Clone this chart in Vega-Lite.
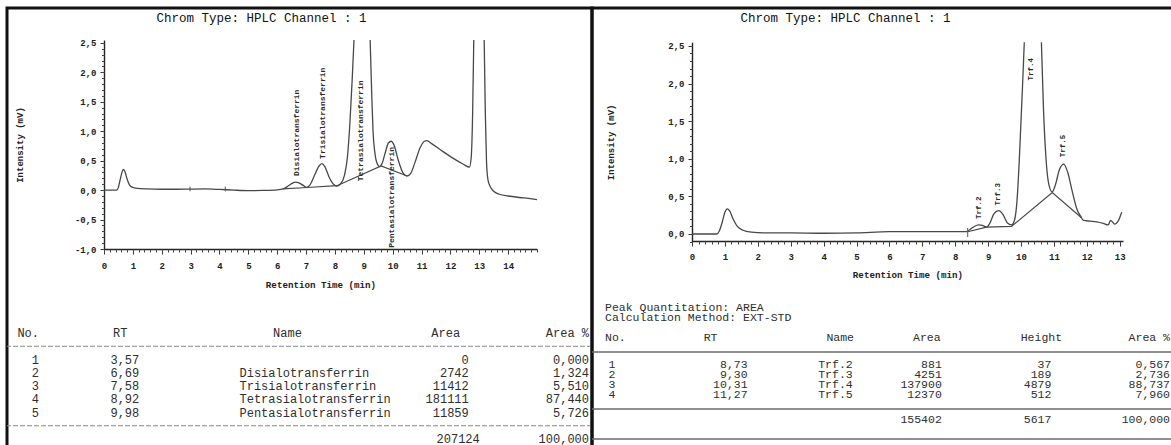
{
  "$schema": "https://vega.github.io/schema/vega-lite/v6.json",
  "usermeta": {"embedOptions": {"actions": false}},
  "padding": {"left": 5, "top": 6, "right": 0, "bottom": 0},
  "spacing": 0,
  "bounds": "flush",
  "config": {
    "font": "Liberation Mono",
    "view": {"stroke": null},
    "axis": {"labelFont": "Liberation Mono", "titleFont": "Liberation Mono", "grid": false}
  },
  "datasets": {
    "leftTrace": [
      {"t": 0, "v": 0, "part": "a"}, {"t": 0.44, "v": 0, "part": "a"}, {"t": 0.5, "v": 0.05, "part": "a"},
      {"t": 0.57, "v": 0.2, "part": "a"}, {"t": 0.64, "v": 0.33, "part": "a"}, {"t": 0.68, "v": 0.35, "part": "a"},
      {"t": 0.73, "v": 0.31, "part": "a"}, {"t": 0.8, "v": 0.19, "part": "a"}, {"t": 0.88, "v": 0.09, "part": "a"},
      {"t": 0.98, "v": 0.05, "part": "a"}, {"t": 1.15, "v": 0.03, "part": "a"}, {"t": 1.5, "v": 0.02, "part": "a"},
      {"t": 2.0, "v": 0.015, "part": "a"}, {"t": 2.5, "v": 0.015, "part": "a"}, {"t": 3.0, "v": 0.018, "part": "a"},
      {"t": 3.5, "v": 0.02, "part": "a"}, {"t": 4.0, "v": 0.012, "part": "a"}, {"t": 4.5, "v": 0.0, "part": "a"},
      {"t": 5.0, "v": -0.008, "part": "a"}, {"t": 5.5, "v": -0.005, "part": "a"}, {"t": 6.0, "v": 0.005, "part": "a"},
      {"t": 6.2, "v": 0.02, "part": "a"}, {"t": 6.35, "v": 0.06, "part": "a"}, {"t": 6.5, "v": 0.11, "part": "a"},
      {"t": 6.63, "v": 0.135, "part": "a"}, {"t": 6.75, "v": 0.125, "part": "a"}, {"t": 6.9, "v": 0.08, "part": "a"},
      {"t": 7.03, "v": 0.045, "part": "a"}, {"t": 7.15, "v": 0.1, "part": "a"}, {"t": 7.3, "v": 0.26, "part": "a"},
      {"t": 7.45, "v": 0.41, "part": "a"}, {"t": 7.55, "v": 0.45, "part": "a"}, {"t": 7.65, "v": 0.4, "part": "a"},
      {"t": 7.8, "v": 0.22, "part": "a"}, {"t": 7.95, "v": 0.1, "part": "a"}, {"t": 8.07, "v": 0.07, "part": "a"},
      {"t": 8.2, "v": 0.11, "part": "a"}, {"t": 8.33, "v": 0.25, "part": "a"}, {"t": 8.43, "v": 0.55, "part": "a"},
      {"t": 8.52, "v": 1.15, "part": "a"}, {"t": 8.6, "v": 1.9, "part": "a"}, {"t": 8.66, "v": 2.55, "part": "a"},
      {"t": 9.22, "v": 2.55, "part": "b"}, {"t": 9.27, "v": 1.7, "part": "b"}, {"t": 9.32, "v": 1.0, "part": "b"},
      {"t": 9.38, "v": 0.65, "part": "b"}, {"t": 9.45, "v": 0.47, "part": "b"}, {"t": 9.55, "v": 0.4, "part": "b"},
      {"t": 9.63, "v": 0.45, "part": "b"}, {"t": 9.74, "v": 0.63, "part": "b"}, {"t": 9.85, "v": 0.8, "part": "b"},
      {"t": 9.95, "v": 0.83, "part": "b"}, {"t": 10.05, "v": 0.76, "part": "b"}, {"t": 10.2, "v": 0.5, "part": "b"},
      {"t": 10.35, "v": 0.3, "part": "b"}, {"t": 10.5, "v": 0.24, "part": "b"}, {"t": 10.62, "v": 0.28, "part": "b"},
      {"t": 10.78, "v": 0.48, "part": "b"}, {"t": 10.95, "v": 0.72, "part": "b"}, {"t": 11.1, "v": 0.83, "part": "b"},
      {"t": 11.18, "v": 0.84, "part": "b"}, {"t": 11.35, "v": 0.79, "part": "b"}, {"t": 11.7, "v": 0.67, "part": "b"},
      {"t": 12.1, "v": 0.54, "part": "b"}, {"t": 12.45, "v": 0.44, "part": "b"}, {"t": 12.66, "v": 0.39, "part": "b"},
      {"t": 12.72, "v": 0.55, "part": "b"}, {"t": 12.77, "v": 1.3, "part": "b"}, {"t": 12.81, "v": 2.55, "part": "b"},
      {"t": 13.17, "v": 2.55, "part": "c"}, {"t": 13.21, "v": 1.3, "part": "c"}, {"t": 13.25, "v": 0.5, "part": "c"},
      {"t": 13.3, "v": 0.18, "part": "c"}, {"t": 13.38, "v": 0.06, "part": "c"}, {"t": 13.5, "v": -0.02, "part": "c"},
      {"t": 13.7, "v": -0.07, "part": "c"}, {"t": 14.0, "v": -0.1, "part": "c"}, {"t": 14.4, "v": -0.125, "part": "c"},
      {"t": 14.7, "v": -0.14, "part": "c"}, {"t": 15.0, "v": -0.16, "part": "c"}
    ],
    "leftBase": [
      {"t": 6.2, "v": 0.02}, {"t": 7.03, "v": 0.045}, {"t": 8.07, "v": 0.075}, {"t": 9.6, "v": 0.41}, {"t": 10.5, "v": 0.24}
    ],
    "leftMarks": [
      {"t": 2.98, "lo": -0.02, "hi": 0.06}, {"t": 4.2, "lo": -0.02, "hi": 0.06}
    ],
    "leftPeaks": [
      {"rt": 6.69, "at": 0.24, "label": "Disialotransferrin"},
      {"rt": 7.58, "at": 0.53, "label": "Trisialotransferrin"},
      {"rt": 8.92, "at": 0.15, "label": "Tetrasialotransferrin"},
      {"rt": 9.98, "at": -0.98, "label": "Pentasialotransferrin"}
    ],
    "leftTable": [
      {"line": "hdr", "no": "No.", "rt": "RT", "name": "Name", "area": "Area", "pct": "Area %"},
      {"line": "1", "no": "1", "rt": "3,57", "name": "", "area": "0", "pct": "0,000"},
      {"line": "2", "no": "2", "rt": "6,69", "name": "Disialotransferrin", "area": "2742", "pct": "1,324"},
      {"line": "3", "no": "3", "rt": "7,58", "name": "Trisialotransferrin", "area": "11412", "pct": "5,510"},
      {"line": "4", "no": "4", "rt": "8,92", "name": "Tetrasialotransferrin", "area": "181111", "pct": "87,440"},
      {"line": "5", "no": "5", "rt": "9,98", "name": "Pentasialotransferrin", "area": "11859", "pct": "5,726"},
      {"line": "total", "no": "", "rt": "", "name": "", "area": "207124", "pct": "100,000"}
    ],
    "rightTrace": [
      {"t": 0, "v": 0, "part": "a"}, {"t": 0.75, "v": 0, "part": "a"}, {"t": 0.83, "v": 0.04, "part": "a"},
      {"t": 0.92, "v": 0.16, "part": "a"}, {"t": 1.0, "v": 0.29, "part": "a"}, {"t": 1.07, "v": 0.335, "part": "a"},
      {"t": 1.14, "v": 0.31, "part": "a"}, {"t": 1.25, "v": 0.2, "part": "a"}, {"t": 1.38, "v": 0.1, "part": "a"},
      {"t": 1.55, "v": 0.05, "part": "a"}, {"t": 1.8, "v": 0.025, "part": "a"}, {"t": 2.2, "v": 0.015, "part": "a"},
      {"t": 3.0, "v": 0.015, "part": "a"}, {"t": 4.0, "v": 0.01, "part": "a"}, {"t": 5.0, "v": 0.015, "part": "a"},
      {"t": 6.0, "v": 0.03, "part": "a"}, {"t": 7.0, "v": 0.03, "part": "a"}, {"t": 8.0, "v": 0.03, "part": "a"},
      {"t": 8.35, "v": 0.03, "part": "a"}, {"t": 8.45, "v": 0.06, "part": "a"}, {"t": 8.58, "v": 0.1, "part": "a"},
      {"t": 8.72, "v": 0.12, "part": "a"}, {"t": 8.85, "v": 0.11, "part": "a"}, {"t": 8.95, "v": 0.09, "part": "a"},
      {"t": 9.05, "v": 0.14, "part": "a"}, {"t": 9.18, "v": 0.27, "part": "a"}, {"t": 9.32, "v": 0.31, "part": "a"},
      {"t": 9.45, "v": 0.26, "part": "a"}, {"t": 9.58, "v": 0.15, "part": "a"}, {"t": 9.71, "v": 0.12, "part": "a"},
      {"t": 9.8, "v": 0.18, "part": "a"}, {"t": 9.88, "v": 0.45, "part": "a"}, {"t": 9.96, "v": 1.1, "part": "a"},
      {"t": 10.04, "v": 1.9, "part": "a"}, {"t": 10.1, "v": 2.55, "part": "a"},
      {"t": 10.62, "v": 2.55, "part": "b"}, {"t": 10.68, "v": 1.7, "part": "b"}, {"t": 10.76, "v": 1.0, "part": "b"},
      {"t": 10.85, "v": 0.65, "part": "b"}, {"t": 10.95, "v": 0.56, "part": "b"}, {"t": 11.05, "v": 0.66, "part": "b"},
      {"t": 11.17, "v": 0.86, "part": "b"}, {"t": 11.3, "v": 0.93, "part": "b"}, {"t": 11.42, "v": 0.82, "part": "b"},
      {"t": 11.55, "v": 0.58, "part": "b"}, {"t": 11.7, "v": 0.33, "part": "b"}, {"t": 11.82, "v": 0.23, "part": "b"},
      {"t": 11.9, "v": 0.18, "part": "b"}, {"t": 12.1, "v": 0.17, "part": "b"}, {"t": 12.3, "v": 0.16, "part": "b"},
      {"t": 12.5, "v": 0.14, "part": "b"}, {"t": 12.65, "v": 0.12, "part": "b"}, {"t": 12.72, "v": 0.18, "part": "b"},
      {"t": 12.78, "v": 0.16, "part": "b"}, {"t": 12.85, "v": 0.13, "part": "b"}, {"t": 12.95, "v": 0.17, "part": "b"},
      {"t": 13.06, "v": 0.29, "part": "b"}
    ],
    "rightBase": [
      {"t": 8.38, "v": 0.03}, {"t": 8.95, "v": 0.09}, {"t": 9.71, "v": 0.1}, {"t": 10.95, "v": 0.55}, {"t": 11.83, "v": 0.22}
    ],
    "rightMarks": [
      {"t": 8.38, "lo": -0.04, "hi": 0.08}
    ],
    "rightPeaks": [
      {"rt": 8.73, "at": 0.2, "label": "Trf.2"},
      {"rt": 9.30, "at": 0.38, "label": "Trf.3"},
      {"rt": 10.31, "at": 2.04, "label": "Trf.4"},
      {"rt": 11.27, "at": 1.02, "label": "Trf.5"}
    ],
    "rightNotes": [
      {"line": "pq", "note": "Peak Quantitation: AREA"},
      {"line": "cm", "note": "Calculation Method: EXT-STD"}
    ],
    "rightTable": [
      {"line": "hdr", "no": "No.", "rt": "RT", "name": "Name", "area": "Area", "height": "Height", "pct": "Area %"},
      {"line": "1", "no": "1", "rt": "8,73", "name": "Trf.2", "area": "881", "height": "37", "pct": "0,567"},
      {"line": "2", "no": "2", "rt": "9,30", "name": "Trf.3", "area": "4251", "height": "189", "pct": "2,736"},
      {"line": "3", "no": "3", "rt": "10,31", "name": "Trf.4", "area": "137900", "height": "4879", "pct": "88,737"},
      {"line": "4", "no": "4", "rt": "11,27", "name": "Trf.5", "area": "12370", "height": "512", "pct": "7,960"},
      {"line": "total", "no": "", "rt": "", "name": "", "area": "155402", "height": "5617", "pct": "100,000"}
    ]
  },
  "hconcat": [
    {
      "width": 585,
      "height": 442,
      "view": {"stroke": "#111", "strokeWidth": 3},
      "title": {
        "text": "Chrom Type: HPLC Channel : 1",
        "anchor": "middle", "frame": "group", "dx": -38, "dy": 10.5, "offset": -12, "baseline": "middle",
        "font": "Liberation Mono", "fontSize": 12.5, "fontWeight": "normal", "color": "#111"
      },
      "resolve": {
        "scale": {"x": "independent", "y": "independent"},
        "axis": {"x": "independent", "y": "independent"}
      },
      "layer": [
        {
          "layer": [
            {
              "data": {"name": "leftTrace"},
              "mark": {"type": "line", "interpolate": "monotone", "stroke": "#484848", "strokeWidth": 1.3},
              "encoding": {
                "x": {
                  "field": "t", "type": "quantitative",
                  "scale": {"domain": [0, 15], "range": [97, 530], "nice": false, "zero": false},
                  "axis": {
                    "orient": "bottom", "offset": -201,
                    "values": [0, 1, 2, 3, 4, 5, 6, 7, 8, 9, 10, 11, 12, 13, 14], "format": "d",
                    "labelFlush": false, "labelOverlap": false,
                    "labelFontSize": 9, "labelFontWeight": "bold", "labelColor": "#222", "labelPadding": 7,
                    "tickSize": 5, "tickColor": "#333", "domainColor": "#222", "domainWidth": 1.4,
                    "title": "Retention Time (min)", "titleFontSize": 9.2, "titleFontWeight": "bold",
                    "titleColor": "#222", "titlePadding": 10
                  }
                },
                "y": {
                  "field": "v", "type": "quantitative",
                  "scale": {"domain": [-1, 2.55], "range": [241, 32], "nice": false, "zero": false},
                  "axis": {
                    "orient": "left", "offset": -97,
                    "values": [-1, -0.5, 0, 0.5, 1, 1.5, 2, 2.5],
                    "labelExpr": "replace(replace(format(datum.value, '.1f'), '.', ','), '\u2212', '-')",
                    "labelFlush": false, "labelOverlap": false,
                    "labelFontSize": 9, "labelFontWeight": "bold", "labelColor": "#222", "labelPadding": 4,
                    "tickSize": 4, "tickColor": "#333", "domainColor": "#222", "domainWidth": 1.4,
                    "title": "Intensity (mV)", "titleFontSize": 9, "titleFontWeight": "bold",
                    "titleColor": "#222", "titlePadding": 50
                  }
                },
                "detail": {"field": "part"}
              }
            },
            {
              "data": {"name": "leftBase"},
              "mark": {"type": "line", "stroke": "#484848", "strokeWidth": 1.2},
              "encoding": {
                "x": {"field": "t", "type": "quantitative"},
                "y": {"field": "v", "type": "quantitative"}
              }
            },
            {
              "data": {"name": "leftMarks"},
              "mark": {"type": "rule", "stroke": "#555", "strokeWidth": 1},
              "encoding": {
                "x": {"field": "t", "type": "quantitative"},
                "y": {"field": "lo", "type": "quantitative"},
                "y2": {"field": "hi"}
              }
            },
            {
              "data": {"name": "leftPeaks"},
              "mark": {"type": "text", "angle": 270, "align": "left", "baseline": "middle", "fontSize": 8, "fontWeight": "bold", "color": "#2a2a2a"},
              "encoding": {
                "x": {"field": "rt", "type": "quantitative"},
                "y": {"field": "at", "type": "quantitative"},
                "text": {"field": "label"}
              }
            }
          ]
        },
        {
          "data": {"name": "leftTrace"},
          "mark": {"type": "point", "opacity": 0},
          "encoding": {
            "x": {
              "field": "t", "type": "quantitative",
              "scale": {"domain": [0, 15], "range": [97, 530], "nice": false, "zero": false},
              "axis": {"orient": "bottom", "offset": -201, "tickCount": 75, "labels": false, "domain": false, "tickSize": 3, "tickColor": "#444", "title": null}
            },
            "y": {
              "field": "v", "type": "quantitative",
              "scale": {"domain": [-1, 2.55], "range": [241, 32], "nice": false, "zero": false},
              "axis": {"orient": "left", "offset": -97, "tickCount": 36, "labels": false, "domain": false, "tickSize": 2.5, "tickColor": "#444", "title": null}
            }
          }
        },
        {
          "data": {"name": "leftTable"},
          "encoding": {
            "y": {
              "field": "line", "type": "nominal",
              "scale": {"type": "point", "domain": ["hdr", "sep1", "1", "2", "3", "4", "5", "sep2", "total"], "range": [325, 431], "padding": 0},
              "axis": null
            }
          },
          "layer": [
            {
              "mark": {"type": "text", "align": "right", "fontSize": 12, "color": "#2e2e2e"},
              "encoding": {
                "x": {"datum": "No.", "type": "nominal", "scale": {"type": "point", "domain": ["No.", "RT", "Name", "Area", "Area %"], "range": [32, 581], "padding": 0}, "axis": null},
                "text": {"field": "no"}
              }
            },
            {
              "transform": [{"filter": "datum.line === 'hdr'"}],
              "mark": {"type": "text", "align": "center", "dx": -56, "fontSize": 12, "color": "#2e2e2e"},
              "encoding": {"x": {"datum": "RT", "type": "nominal"}, "text": {"field": "rt"}}
            },
            {
              "transform": [{"filter": "datum.line !== 'hdr'"}],
              "mark": {"type": "text", "align": "right", "dx": -37, "fontSize": 12, "color": "#2e2e2e"},
              "encoding": {"x": {"datum": "RT", "type": "nominal"}, "text": {"field": "rt"}}
            },
            {
              "transform": [{"filter": "datum.line === 'hdr'"}],
              "mark": {"type": "text", "align": "center", "dx": -26, "fontSize": 12, "color": "#2e2e2e"},
              "encoding": {"x": {"datum": "Name", "type": "nominal"}, "text": {"field": "name"}}
            },
            {
              "transform": [{"filter": "datum.line !== 'hdr'"}],
              "mark": {"type": "text", "align": "left", "dx": -74, "fontSize": 12, "color": "#2e2e2e"},
              "encoding": {"x": {"datum": "Name", "type": "nominal"}, "text": {"field": "name"}}
            },
            {
              "transform": [{"filter": "datum.line === 'hdr'"}],
              "mark": {"type": "text", "align": "center", "dx": -5, "fontSize": 12, "color": "#2e2e2e"},
              "encoding": {"x": {"datum": "Area", "type": "nominal"}, "text": {"field": "area"}}
            },
            {
              "transform": [{"filter": "datum.line !== 'hdr' && datum.line !== 'total'"}],
              "mark": {"type": "text", "align": "right", "dx": 18, "fontSize": 12, "color": "#2e2e2e"},
              "encoding": {"x": {"datum": "Area", "type": "nominal"}, "text": {"field": "area"}}
            },
            {
              "transform": [{"filter": "datum.line === 'total'"}],
              "mark": {"type": "text", "align": "right", "dx": 29, "fontSize": 12, "color": "#2e2e2e"},
              "encoding": {"x": {"datum": "Area", "type": "nominal"}, "text": {"field": "area"}}
            },
            {
              "mark": {"type": "text", "align": "right", "dx": 1, "fontSize": 12, "color": "#2e2e2e"},
              "encoding": {"x": {"datum": "Area %", "type": "nominal"}, "text": {"field": "pct"}}
            },
            {
              "data": {"values": [{"line": "sep1"}, {"line": "sep2"}]},
              "mark": {"type": "rule", "stroke": "#8a8a8a", "strokeWidth": 1, "strokeDash": [5, 2]},
              "encoding": {"y": {"field": "line", "type": "nominal"}}
            }
          ]
        }
      ]
    },
    {
      "width": 583,
      "height": 442,
      "view": {"stroke": "#111", "strokeWidth": 3},
      "title": {
        "text": "Chrom Type: HPLC Channel : 1",
        "anchor": "middle", "frame": "group", "dx": -38, "dy": 10.5, "offset": -12, "baseline": "middle",
        "font": "Liberation Mono", "fontSize": 12.5, "fontWeight": "normal", "color": "#111"
      },
      "resolve": {
        "scale": {"x": "independent", "y": "independent"},
        "axis": {"x": "independent", "y": "independent"}
      },
      "layer": [
        {
          "layer": [
            {
              "data": {"name": "rightTrace"},
              "mark": {"type": "line", "interpolate": "monotone", "stroke": "#484848", "strokeWidth": 1.3},
              "encoding": {
                "x": {
                  "field": "t", "type": "quantitative",
                  "scale": {"domain": [0, 13.1], "range": [100, 531], "nice": false, "zero": false},
                  "axis": {
                    "orient": "bottom", "offset": -209,
                    "values": [0, 1, 2, 3, 4, 5, 6, 7, 8, 9, 10, 11, 12, 13], "format": "d",
                    "labelFlush": false, "labelOverlap": false,
                    "labelFontSize": 9, "labelFontWeight": "bold", "labelColor": "#222", "labelPadding": 6,
                    "tickSize": 5, "tickColor": "#333", "domainColor": "#222", "domainWidth": 1.4,
                    "title": "Retention Time (min)", "titleFontSize": 9.2, "titleFontWeight": "bold",
                    "titleColor": "#222", "titlePadding": 9
                  }
                },
                "y": {
                  "field": "v", "type": "quantitative",
                  "scale": {"domain": [-0.1, 2.55], "range": [233.5, 34.2], "nice": false, "zero": false},
                  "axis": {
                    "orient": "left", "offset": -100,
                    "values": [0, 0.5, 1, 1.5, 2, 2.5],
                    "labelExpr": "replace(format(datum.value, '.1f'), '.', ',')",
                    "labelFlush": false, "labelOverlap": false,
                    "labelFontSize": 9, "labelFontWeight": "bold", "labelColor": "#222", "labelPadding": 4,
                    "tickSize": 4, "tickColor": "#333", "domainColor": "#222", "domainWidth": 1.4,
                    "title": "Intensity (mV)", "titleFontSize": 9, "titleFontWeight": "bold",
                    "titleColor": "#222", "titlePadding": 52
                  }
                },
                "detail": {"field": "part"}
              }
            },
            {
              "data": {"name": "rightBase"},
              "mark": {"type": "line", "stroke": "#484848", "strokeWidth": 1.2},
              "encoding": {
                "x": {"field": "t", "type": "quantitative"},
                "y": {"field": "v", "type": "quantitative"}
              }
            },
            {
              "data": {"name": "rightMarks"},
              "mark": {"type": "rule", "stroke": "#555", "strokeWidth": 1},
              "encoding": {
                "x": {"field": "t", "type": "quantitative"},
                "y": {"field": "lo", "type": "quantitative"},
                "y2": {"field": "hi"}
              }
            },
            {
              "data": {"name": "rightPeaks"},
              "mark": {"type": "text", "angle": 270, "align": "left", "baseline": "middle", "fontSize": 7.5, "fontWeight": "bold", "color": "#2a2a2a"},
              "encoding": {
                "x": {"field": "rt", "type": "quantitative"},
                "y": {"field": "at", "type": "quantitative"},
                "text": {"field": "label"}
              }
            }
          ]
        },
        {
          "data": {"name": "rightTrace"},
          "mark": {"type": "point", "opacity": 0},
          "encoding": {
            "x": {
              "field": "t", "type": "quantitative",
              "scale": {"domain": [0, 13.1], "range": [100, 531], "nice": false, "zero": false},
              "axis": {"orient": "bottom", "offset": -209, "tickCount": 65, "labels": false, "domain": false, "tickSize": 3, "tickColor": "#444", "title": null}
            },
            "y": {
              "field": "v", "type": "quantitative",
              "scale": {"domain": [-0.1, 2.55], "range": [233.5, 34.2], "nice": false, "zero": false},
              "axis": {"orient": "left", "offset": -100, "tickCount": 26, "labels": false, "domain": false, "tickSize": 2.5, "tickColor": "#444", "title": null}
            }
          }
        },
        {
          "encoding": {
            "y": {
              "field": "line", "type": "nominal",
              "scale": {"type": "point", "domain": ["pq", "cm", "hdr", "sep1", "1", "2", "3", "4", "sep2", "total", "sep3"], "range": [317, 417], "padding": 0},
              "axis": null
            }
          },
          "layer": [
            {
              "data": {"name": "rightNotes"},
              "mark": {"type": "text", "align": "left", "dx": -7, "dy": -17, "fontSize": 11.5, "color": "#2e2e2e"},
              "encoding": {
                "x": {"datum": "No.", "type": "nominal", "scale": {"type": "point", "domain": ["No.", "RT", "Name", "Area", "Height", "Area %"], "range": [20, 578], "padding": 0}, "axis": null},
                "text": {"field": "note"}
              }
            },
            {
              "data": {"name": "rightTable"},
              "transform": [{"filter": "datum.line === 'hdr'"}],
              "layer": [
                {"mark": {"type": "text", "align": "left", "dx": -7, "dy": -7, "fontSize": 11.5, "color": "#2e2e2e"}, "encoding": {"x": {"datum": "No.", "type": "nominal"}, "text": {"field": "no"}}},
                {"mark": {"type": "text", "align": "center", "dx": -13, "dy": -7, "fontSize": 11.5, "color": "#2e2e2e"}, "encoding": {"x": {"datum": "RT", "type": "nominal"}, "text": {"field": "rt"}}},
                {"mark": {"type": "text", "align": "center", "dx": 5, "dy": -7, "fontSize": 11.5, "color": "#2e2e2e"}, "encoding": {"x": {"datum": "Name", "type": "nominal"}, "text": {"field": "name"}}},
                {"mark": {"type": "text", "align": "center", "dx": -20, "dy": -7, "fontSize": 11.5, "color": "#2e2e2e"}, "encoding": {"x": {"datum": "Area", "type": "nominal"}, "text": {"field": "area"}}},
                {"mark": {"type": "text", "align": "center", "dx": -17, "dy": -7, "fontSize": 11.5, "color": "#2e2e2e"}, "encoding": {"x": {"datum": "Height", "type": "nominal"}, "text": {"field": "height"}}},
                {"mark": {"type": "text", "align": "right", "dx": 0, "dy": -7, "fontSize": 11.5, "color": "#2e2e2e"}, "encoding": {"x": {"datum": "Area %", "type": "nominal"}, "text": {"field": "pct"}}}
              ]
            },
            {
              "data": {"name": "rightTable"},
              "transform": [{"filter": "datum.line !== 'hdr' && datum.line !== 'total'"}],
              "layer": [
                {"mark": {"type": "text", "align": "center", "dx": 0, "fontSize": 11.5, "color": "#2e2e2e"}, "encoding": {"x": {"datum": "No.", "type": "nominal"}, "text": {"field": "no"}}},
                {"mark": {"type": "text", "align": "right", "dx": 24, "fontSize": 11.5, "color": "#2e2e2e"}, "encoding": {"x": {"datum": "RT", "type": "nominal"}, "text": {"field": "rt"}}},
                {"mark": {"type": "text", "align": "left", "dx": -17, "fontSize": 11.5, "color": "#2e2e2e"}, "encoding": {"x": {"datum": "Name", "type": "nominal"}, "text": {"field": "name"}}},
                {"mark": {"type": "text", "align": "right", "dx": -5, "fontSize": 11.5, "color": "#2e2e2e"}, "encoding": {"x": {"datum": "Area", "type": "nominal"}, "text": {"field": "area"}}},
                {"mark": {"type": "text", "align": "right", "dx": -7, "fontSize": 11.5, "color": "#2e2e2e"}, "encoding": {"x": {"datum": "Height", "type": "nominal"}, "text": {"field": "height"}}},
                {"mark": {"type": "text", "align": "right", "dx": 0, "fontSize": 11.5, "color": "#2e2e2e"}, "encoding": {"x": {"datum": "Area %", "type": "nominal"}, "text": {"field": "pct"}}}
              ]
            },
            {
              "data": {"name": "rightTable"},
              "transform": [{"filter": "datum.line === 'total'"}],
              "layer": [
                {"mark": {"type": "text", "align": "right", "dx": -5, "dy": 5, "fontSize": 11.5, "color": "#2e2e2e"}, "encoding": {"x": {"datum": "Area", "type": "nominal"}, "text": {"field": "area"}}},
                {"mark": {"type": "text", "align": "right", "dx": -7, "dy": 5, "fontSize": 11.5, "color": "#2e2e2e"}, "encoding": {"x": {"datum": "Height", "type": "nominal"}, "text": {"field": "height"}}},
                {"mark": {"type": "text", "align": "right", "dx": 0, "dy": 5, "fontSize": 11.5, "color": "#2e2e2e"}, "encoding": {"x": {"datum": "Area %", "type": "nominal"}, "text": {"field": "pct"}}}
              ]
            },
            {
              "data": {"values": [{"line": "sep1"}]},
              "mark": {"type": "rule", "stroke": "#6a6a6a", "strokeWidth": 1.6, "yOffset": -3},
              "encoding": {"y": {"field": "line", "type": "nominal"}}
            },
            {
              "data": {"values": [{"line": "sep2"}]},
              "mark": {"type": "rule", "stroke": "#6a6a6a", "strokeWidth": 1.6, "yOffset": 4},
              "encoding": {"y": {"field": "line", "type": "nominal"}}
            },
            {
              "data": {"values": [{"line": "sep3"}]},
              "mark": {"type": "rule", "stroke": "#6a6a6a", "strokeWidth": 1.6, "yOffset": 14},
              "encoding": {"y": {"field": "line", "type": "nominal"}}
            }
          ]
        }
      ]
    }
  ]
}
